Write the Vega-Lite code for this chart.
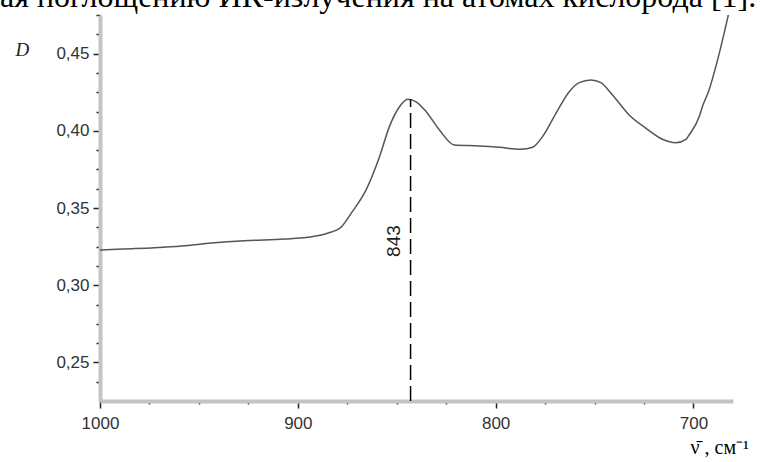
{
  "$schema": "https://vega.github.io/schema/vega-lite/v6.json",
  "width": 633,
  "height": 386,
  "autosize": {"type": "none"},
  "padding": {"left": 100, "top": 15, "right": 30, "bottom": 61},
  "background": "white",
  "title": {
    "text": "ая поглощению ИК-излучения на атомах кислорода [1].",
    "anchor": "start",
    "frame": "group",
    "font": "Liberation Serif",
    "fontSize": 32,
    "fontWeight": "normal",
    "color": "black",
    "dx": -100,
    "dy": 25,
    "offset": 0,
    "baseline": "alphabetic"
  },
  "config": {"view": {"stroke": null}},
  "datasets": {
    "spectrum": [
      {"wavenumber": 1000, "D": 0.3227},
      {"wavenumber": 988.5, "D": 0.3234},
      {"wavenumber": 972.4, "D": 0.3243},
      {"wavenumber": 958.7, "D": 0.3254},
      {"wavenumber": 943.6, "D": 0.3273},
      {"wavenumber": 926.9, "D": 0.3288},
      {"wavenumber": 906.7, "D": 0.3299},
      {"wavenumber": 895.1, "D": 0.331},
      {"wavenumber": 885.0, "D": 0.3336},
      {"wavenumber": 877.9, "D": 0.3379},
      {"wavenumber": 872.9, "D": 0.3468},
      {"wavenumber": 865.5, "D": 0.3617},
      {"wavenumber": 858.7, "D": 0.3832},
      {"wavenumber": 853.7, "D": 0.4027},
      {"wavenumber": 848.6, "D": 0.4156},
      {"wavenumber": 844.4, "D": 0.4204},
      {"wavenumber": 840.2, "D": 0.4188},
      {"wavenumber": 835.1, "D": 0.4124},
      {"wavenumber": 828.4, "D": 0.4005},
      {"wavenumber": 820.8, "D": 0.3908},
      {"wavenumber": 808.2, "D": 0.3902},
      {"wavenumber": 798.1, "D": 0.3893},
      {"wavenumber": 787.2, "D": 0.388},
      {"wavenumber": 781.3, "D": 0.3893},
      {"wavenumber": 776.3, "D": 0.3962},
      {"wavenumber": 769.5, "D": 0.4113},
      {"wavenumber": 762.8, "D": 0.4253},
      {"wavenumber": 757.7, "D": 0.4312},
      {"wavenumber": 751.8, "D": 0.4329},
      {"wavenumber": 746.8, "D": 0.4312},
      {"wavenumber": 740.9, "D": 0.4232},
      {"wavenumber": 732.5, "D": 0.4102},
      {"wavenumber": 724.0, "D": 0.4016},
      {"wavenumber": 715.7, "D": 0.3945},
      {"wavenumber": 708.9, "D": 0.3923},
      {"wavenumber": 703.8, "D": 0.3945},
      {"wavenumber": 702.2, "D": 0.3973},
      {"wavenumber": 697.1, "D": 0.4091},
      {"wavenumber": 695.5, "D": 0.4156},
      {"wavenumber": 692.1, "D": 0.4264},
      {"wavenumber": 688.7, "D": 0.4415},
      {"wavenumber": 684.5, "D": 0.4631},
      {"wavenumber": 682.0, "D": 0.4771}
    ],
    "markerLine": [
      {"wavenumber": 843, "D": 0.225, "Dtop": 0.4204}
    ],
    "markerLabel": [
      {"wavenumber": 843, "D": 0.3286, "label": "843"}
    ]
  },
  "layer": [
    {
      "data": {"name": "spectrum"},
      "mark": {"type": "line", "color": "#555555", "strokeWidth": 1.5, "clip": true, "interpolate": "monotone"},
      "encoding": {
        "x": {
          "field": "wavenumber",
          "type": "quantitative",
          "scale": {"domain": [680, 1000], "reverse": true, "nice": false, "zero": false},
          "axis": {
            "title": "ν̄ , см⁻¹",
            "titleFont": "Liberation Serif",
            "titleFontSize": 20,
            "titleFontWeight": "normal",
            "titleColor": "black",
            "titleAlign": "left",
            "titleBaseline": "alphabetic",
            "titleX": 590,
            "titleY": 52,
            "values": [1000, 975, 950, 925, 900, 875, 850, 825, 800, 775, 750, 725, 700],
            "tickCount": 50,
            "labelExpr": "datum.value % 100 === 0 ? format(datum.value, 'd') : ''",
            "labelFontSize": {"condition": {"test": "datum.value % 100 === 0", "value": 17}, "value": 1},
            "tickSize": {"condition": {"test": "datum.value % 100 === 0", "value": 7}, "value": 3},
            "tickColor": "#222222",
            "tickWidth": 1.5,
            "domainColor": "#c4c4c4",
            "domainWidth": 4,
            "labelFont": "Liberation Sans",
            "labelColor": "#333333",
            "labelPadding": 7,
            "labelFlush": false,
            "labelOverlap": false,
            "grid": false
          }
        },
        "y": {
          "field": "D",
          "type": "quantitative",
          "scale": {"domain": [0.225, 0.475], "nice": false, "zero": false},
          "axis": {
            "title": "D",
            "titleAngle": 0,
            "titleFont": "Liberation Serif",
            "titleFontStyle": "italic",
            "titleFontWeight": "normal",
            "titleFontSize": 19,
            "titleColor": "#222222",
            "titleAlign": "left",
            "titleBaseline": "alphabetic",
            "titleX": -85,
            "titleY": 40,
            "values": [0.2375, 0.25, 0.2625, 0.275, 0.2875, 0.3, 0.3125, 0.325, 0.3375, 0.35, 0.3625, 0.375, 0.3875, 0.4, 0.4125, 0.425, 0.4375, 0.45, 0.4625, 0.475],
            "tickCount": 50,
            "labelExpr": "((datum.value > 0.249 && datum.value < 0.251) || (datum.value > 0.299 && datum.value < 0.301) || (datum.value > 0.349 && datum.value < 0.351) || (datum.value > 0.399 && datum.value < 0.401) || (datum.value > 0.449 && datum.value < 0.451)) ? replace(format(datum.value, '.2f'), '.', ',') : ''",
            "labelFontSize": {"condition": {"test": "(datum.value > 0.249 && datum.value < 0.251) || (datum.value > 0.299 && datum.value < 0.301) || (datum.value > 0.349 && datum.value < 0.351) || (datum.value > 0.399 && datum.value < 0.401) || (datum.value > 0.449 && datum.value < 0.451)", "value": 17}, "value": 1},
            "tickSize": {"condition": {"test": "(datum.value > 0.249 && datum.value < 0.251) || (datum.value > 0.299 && datum.value < 0.301) || (datum.value > 0.349 && datum.value < 0.351) || (datum.value > 0.399 && datum.value < 0.401) || (datum.value > 0.449 && datum.value < 0.451)", "value": 7}, "value": 4},
            "tickColor": "#222222",
            "tickWidth": 1.5,
            "domainColor": "#c4c4c4",
            "domainWidth": 4,
            "labelFont": "Liberation Sans",
            "labelColor": "#333333",
            "labelPadding": 4,
            "labelFlush": false,
            "labelOverlap": false,
            "grid": false
          }
        }
      }
    },
    {
      "data": {"name": "markerLine"},
      "mark": {"type": "rule", "color": "black", "strokeDash": [15, 6], "strokeWidth": 1.5},
      "encoding": {
        "x": {"field": "wavenumber", "type": "quantitative"},
        "y": {"field": "D", "type": "quantitative"},
        "y2": {"field": "Dtop"}
      }
    },
    {
      "data": {"name": "markerLabel"},
      "mark": {"type": "text", "angle": 270, "font": "Liberation Sans", "fontSize": 19, "color": "#222222", "align": "center", "baseline": "middle", "dy": -17},
      "encoding": {
        "x": {"field": "wavenumber", "type": "quantitative"},
        "y": {"field": "D", "type": "quantitative"},
        "text": {"field": "label"}
      }
    }
  ]
}
